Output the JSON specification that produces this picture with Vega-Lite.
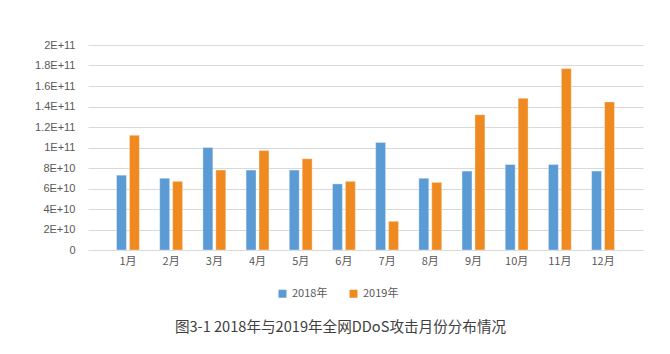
{
  "$schema": "https://vega.github.io/schema/vega-lite/v6.json",
  "width": 555,
  "height": 205,
  "autosize": "none",
  "padding": {"left": 88, "top": 45, "right": 27, "bottom": 104},
  "background": "white",
  "title": {
    "text": "图3-1 2018年与2019年全网DDoS攻击月份分布情况",
    "orient": "bottom",
    "anchor": "middle",
    "frame": "group",
    "dx": -25,
    "offset": 21,
    "font": "Noto Sans CJK SC",
    "fontSize": 14.6,
    "fontWeight": "normal",
    "color": "#404040"
  },
  "data": {
    "values": [
      {"month": "1月", "year": "2018年", "value": 73000000000},
      {"month": "1月", "year": "2019年", "value": 112000000000},
      {"month": "2月", "year": "2018年", "value": 70000000000},
      {"month": "2月", "year": "2019年", "value": 67000000000},
      {"month": "3月", "year": "2018年", "value": 100000000000},
      {"month": "3月", "year": "2019年", "value": 78000000000},
      {"month": "4月", "year": "2018年", "value": 78000000000},
      {"month": "4月", "year": "2019年", "value": 97000000000},
      {"month": "5月", "year": "2018年", "value": 78000000000},
      {"month": "5月", "year": "2019年", "value": 89000000000},
      {"month": "6月", "year": "2018年", "value": 64500000000},
      {"month": "6月", "year": "2019年", "value": 67000000000},
      {"month": "7月", "year": "2018年", "value": 105000000000},
      {"month": "7月", "year": "2019年", "value": 28000000000},
      {"month": "8月", "year": "2018年", "value": 70000000000},
      {"month": "8月", "year": "2019年", "value": 66000000000},
      {"month": "9月", "year": "2018年", "value": 77000000000},
      {"month": "9月", "year": "2019年", "value": 132000000000},
      {"month": "10月", "year": "2018年", "value": 83500000000},
      {"month": "10月", "year": "2019年", "value": 148000000000},
      {"month": "11月", "year": "2018年", "value": 83500000000},
      {"month": "11月", "year": "2019年", "value": 177000000000},
      {"month": "12月", "year": "2018年", "value": 77000000000},
      {"month": "12月", "year": "2019年", "value": 144500000000}
    ]
  },
  "mark": {"type": "bar", "stroke": "white", "strokeWidth": 0.6, "strokeOpacity": 0.6},
  "encoding": {
    "x": {
      "field": "month",
      "type": "nominal",
      "sort": null,
      "scale": {"paddingInner": 0.47, "paddingOuter": 0.66},
      "axis": {
        "title": null,
        "labelAngle": 0,
        "ticks": false,
        "domain": false,
        "labelPadding": 5,
        "labelFont": "Noto Sans CJK SC",
        "labelFontSize": 11,
        "labelColor": "#595959"
      }
    },
    "xOffset": {
      "field": "year",
      "type": "nominal",
      "scale": {"paddingInner": 0.23, "paddingOuter": 0}
    },
    "y": {
      "field": "value",
      "type": "quantitative",
      "scale": {"domain": [0, 200000000000], "nice": false},
      "axis": {
        "title": null,
        "values": [0, 20000000000, 40000000000, 60000000000, 80000000000, 100000000000, 120000000000, 140000000000, 160000000000, 180000000000, 200000000000],
        "labelExpr": "datum.value === 0 ? '0' : upper(format(datum.value, '.2~e'))",
        "ticks": false,
        "domain": false,
        "grid": true,
        "gridColor": "#d9d9d9",
        "gridWidth": 1,
        "labelPadding": 13,
        "labelFont": "Liberation Sans",
        "labelFontSize": 11,
        "labelColor": "#595959"
      }
    },
    "color": {
      "field": "year",
      "type": "nominal",
      "scale": {"domain": ["2018年", "2019年"], "range": ["#5B9BD5", "#EF8A21"]},
      "legend": {
        "title": null,
        "orient": "none",
        "direction": "horizontal",
        "legendX": 189,
        "legendY": 243,
        "symbolType": "square",
        "symbolSize": 64,
        "symbolStrokeWidth": 0,
        "columnPadding": 20,
        "labelFont": "Noto Sans CJK SC",
        "labelFontSize": 11,
        "labelColor": "#595959",
        "labelOffset": 4
      }
    }
  },
  "config": {
    "view": {"stroke": null},
    "axisX": {"grid": false}
  }
}
